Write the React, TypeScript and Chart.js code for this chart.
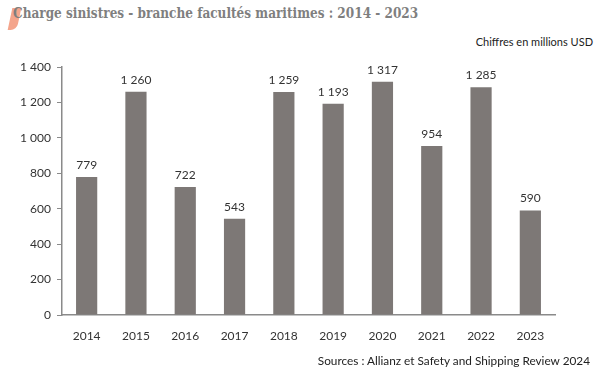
import React, { useEffect, useRef } from "react";
import { Chart, registerables } from "chart.js";
Chart.register(...registerables);

const years = ["2014", "2015", "2016", "2017", "2018", "2019", "2020", "2021", "2022", "2023"];
const values = [779, 1260, 722, 543, 1259, 1193, 1317, 954, 1285, 590];
const yTicks = [0, 200, 400, 600, 800, 1000, 1200, 1400];

const fmt = (v: number) => String(v).replace(/\B(?=(\d{3})+(?!\d))/g, " ");

const labelPlugin = {
  id: "valueLabels",
  afterDatasetsDraw(chart: any) {
    const ctx = chart.ctx;
    const meta = chart.getDatasetMeta(0);
    ctx.save();
    ctx.font = "12px Lato, 'Open Sans', sans-serif";
    ctx.fillStyle = "#333";
    ctx.textAlign = "center";
    ctx.textBaseline = "bottom";
    meta.data.forEach((bar: any, i: number) => {
      ctx.fillText(fmt(values[i]), bar.x, bar.y - 6);
    });
    ctx.restore();
  },
};

export default function App() {
  const ref = useRef<HTMLCanvasElement>(null);
  useEffect(() => {
    document.body.style.margin = "0";
    const chart = new Chart(ref.current!, {
      type: "bar",
      data: {
        labels: years,
        datasets: [
          {
            data: values,
            backgroundColor: "#7d7876",
            barPercentage: 0.43,
            categoryPercentage: 1,
          },
        ],
      },
      options: {
        animation: false,
        responsive: false,
        layout: { padding: { top: 67, right: 45, left: 0, bottom: 0 } },
        plugins: { legend: { display: false }, tooltip: { enabled: false } },
        scales: {
          x: {
            grid: { display: false },
            border: { display: true, color: "#8a8a8a", width: 1.5 },
            ticks: { color: "#333", font: { family: "Lato, 'Open Sans', sans-serif", size: 12 }, padding: 6 },
            afterFit: (s: any) => { s.height = 53; },
          },
          y: {
            min: 0,
            max: 1400,
            afterBuildTicks: (s: any) => { s.ticks = yTicks.map((v) => ({ value: v })); },
            grid: { drawOnChartArea: false, drawTicks: true, tickLength: 5, color: "#8a8a8a" },
            border: { display: true, color: "#8a8a8a", width: 1.5 },
            ticks: {
              color: "#333",
              font: { family: "Lato, 'Open Sans', sans-serif", size: 12 },
              padding: 6,
              callback: (v: any) => fmt(Number(v)),
            },
            afterFit: (s: any) => { s.width = 62; },
          },
        },
      },
      plugins: [labelPlugin],
    });
    return () => chart.destroy();
  }, []);
  return (
    <div style={{ position: "relative", width: 600, height: 368, background: "#fff", overflow: "hidden" }}>
      <div style={{ position: "absolute", left: 10, top: 8, width: 9, height: 22, background: "#f4a58c", borderRadius: "0 0 6px 0", transform: "skewX(-12deg)" }} />
      <div
        style={{
          position: "absolute",
          left: 13,
          top: 4,
          fontFamily: "'DejaVu Serif', serif",
          fontWeight: "bold",
          fontSize: 15,
          color: "#7f7f7f",
          whiteSpace: "nowrap",
          transform: "scaleX(0.807)",
          transformOrigin: "left top",
        }}
      >
        Charge sinistres - branche facultés maritimes : 2014 - 2023
      </div>
      <div style={{ position: "absolute", right: 7, top: 35, fontFamily: "Lato, 'Open Sans', sans-serif", fontSize: 11, color: "#222" }}>
        Chiffres en millions USD
      </div>
      <canvas ref={ref} width={600} height={368} style={{ position: "absolute", left: 0, top: 0 }} />
      <div style={{ position: "absolute", right: 10, top: 353, fontFamily: "Lato, 'Open Sans', sans-serif", fontSize: 11.8, color: "#222" }}>
        Sources : Allianz et Safety and Shipping Review 2024
      </div>
    </div>
  );
}
